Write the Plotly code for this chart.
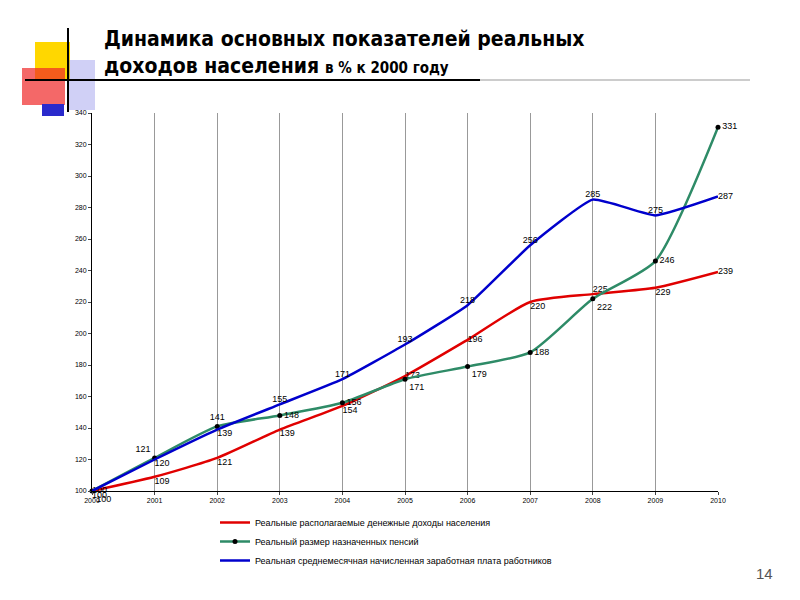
import plotly.graph_objects as go

years = list(range(2000, 2011))
income = [100, 109, 121, 139, 154, 173, 196, 220, 225, 229, 239]
pension = [100, 121, 141, 148, 156, 171, 179, 188, 222, 246, 331]
wage = [100, 120, 139, 155, 171, 193, 218, 256, 285, 275, 287]

names = ["Реальные располагаемые денежные доходы населения",
         "Реальный размер назначенных пенсий",
         "Реальная среднемесячная начисленная заработная плата работников"]

# label positions per point
pos_income = ["middle right", "bottom right", "bottom right", "bottom right", "bottom right",
              "middle right", "middle right", "bottom right", "top right", "bottom right", "middle right"]
pos_pension = ["bottom right", "top left", "top center", "middle right", "middle right",
               "bottom right", "bottom right", "middle right", "bottom right", "middle right", "middle right"]
pos_wage = ["bottom right", "bottom right", "bottom right", "top center", "top center",
            "top center", "top center", "top center", "top center", "top center", "middle right"]

# page offset in the browser
OFF = 8
L, R, T, B = 92, 718, 113, 491
def px(x): return (x - L) / (R - L)
def py(y): return (B - y) / (B - T)

fig = go.Figure()
fig.add_trace(go.Scatter(x=years, y=income, name=names[0], mode="lines+text", cliponaxis=False,
                         line=dict(color="#e00000", width=2.5, shape="spline", smoothing=0.6),
                         text=[str(v) for v in income], textposition=pos_income,
                         textfont=dict(size=9, color="black")))
fig.add_trace(go.Scatter(x=years, y=pension, name=names[1], mode="lines+markers+text", cliponaxis=False,
                         line=dict(color="#2e8b67", width=2.5, shape="spline", smoothing=0.6),
                         marker=dict(color="black", size=5),
                         text=[str(v) for v in pension], textposition=pos_pension,
                         textfont=dict(size=9, color="black")))
fig.add_trace(go.Scatter(x=years, y=wage, name=names[2], mode="lines+text", cliponaxis=False,
                         line=dict(color="#0000cc", width=2.5, shape="spline", smoothing=0.4),
                         text=[str(v) for v in wage], textposition=pos_wage,
                         textfont=dict(size=9, color="black")))

P = dict(xref="paper", yref="paper", layer="above")
shapes = [
    dict(type="rect", x0=px(35), x1=px(70), y0=py(80), y1=py(42), fillcolor="#ffd700", line_width=0, **P),
    dict(type="rect", x0=px(68), x1=px(95), y0=py(110), y1=py(60), fillcolor="rgba(120,120,230,0.35)", line_width=0, **P),
    dict(type="rect", x0=px(22), x1=px(65), y0=py(105), y1=py(68), fillcolor="rgba(240,40,40,0.7)", line_width=0, **P),
    dict(type="rect", x0=px(42), x1=px(64), y0=py(116), y1=py(104), fillcolor="#2a2acc", line_width=0, **P),
    dict(type="line", x0=px(68), x1=px(68), y0=py(112), y1=py(28), line=dict(color="black", width=2), **P),
    dict(type="line", x0=px(25), x1=px(480), y0=py(80), y1=py(80), line=dict(color="black", width=2), **P),
    dict(type="line", x0=px(480), x1=px(750), y0=py(80), y1=py(80), line=dict(color="#cccccc", width=2), **P),
]

fig.update_layout(
    width=800, height=600,
    margin=dict(l=L - OFF, r=800 - R + OFF, t=T - OFF, b=600 - B + OFF),
    paper_bgcolor="white", plot_bgcolor="white",
    font=dict(family="Liberation Sans", color="black"),
    shapes=shapes,
    showlegend=True,
    legend=dict(x=px(215), y=py(508), xanchor="left", yanchor="top",
                font=dict(size=9), tracegroupgap=0, itemwidth=30),
    annotations=[
        dict(text="<b>Динамика основных показателей реальных<br>доходов населения</b> <b><span style='font-size:15px'>в % к 2000 году</span></b>",
             x=px(102), y=py(25), xref="paper", yref="paper", xanchor="left", yanchor="top",
             align="left", showarrow=False, font=dict(size=21, family="DejaVu Sans Condensed, DejaVu Sans")),
        dict(text="14", x=px(775), y=py(573), xref="paper", yref="paper", xanchor="right",
             yanchor="middle", showarrow=False, font=dict(size=15, color="#555555")),
    ],
)
fig.update_xaxes(range=[2000, 2010], tickvals=years, showgrid=True, gridcolor="#999999",
                 gridwidth=1, showline=True, linecolor="black", ticks="outside", ticklen=3,
                 tickfont=dict(size=7), zeroline=False)
fig.update_yaxes(range=[100, 340], dtick=20, showgrid=False, showline=True, linecolor="black",
                 ticks="outside", ticklen=3, tickfont=dict(size=7), zeroline=False)

fig.write_html("out.html")
